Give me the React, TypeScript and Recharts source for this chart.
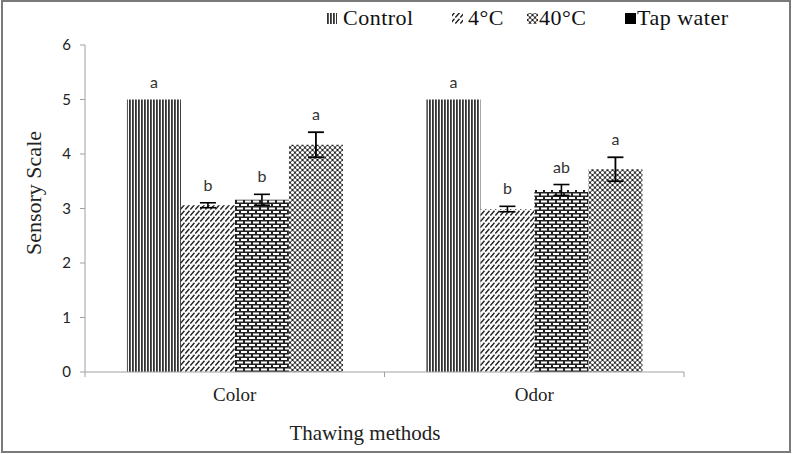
import React from "react";
import { BarChart, Bar, XAxis, YAxis, ErrorBar, LabelList } from "recharts";

const categories = ["Color", "Odor"];
const control = [5, 5];
const cold4 = [3.06, 2.99];
const warm40 = [3.16, 3.34];
const tapWater = [4.17, 3.72];
const err4 = [0.045, 0.05];
const err40 = [0.1, 0.1];
const errTap = [0.23, 0.22];
const letterControl = ["a", "a"];
const letter4 = ["b", "b"];
const letter40 = ["b", "ab"];
const letterTap = ["a", "a"];
const yTicks = [0, 1, 2, 3, 4, 5, 6];

const data = categories.map((name, i) => ({
  name,
  control: control[i],
  c4: cold4[i],
  c40: warm40[i],
  tap: tapWater[i],
  e4: err4[i],
  e40: err40[i],
  eTap: errTap[i],
  lControl: letterControl[i],
  l4: letter4[i],
  l40: letter40[i],
  lTap: letterTap[i],
}));

const SERIF = "'Liberation Serif', 'Times New Roman', serif";
const SANS = "Lato, 'Open Sans', sans-serif";

// letters sit above the error bar top
const letterRenderer = (values: number[], errs: number[]) => (props: any) => {
  const vb = props.viewBox || {};
  const x = props.x ?? vb.x;
  const y = props.y ?? vb.y;
  const w = props.width ?? vb.width;
  const h = props.height ?? vb.height;
  const idx = props.index ?? 0;
  const v = values[idx];
  const e = errs[idx] || 0;
  const pxPerUnit = v ? Math.abs(h) / v : 0;
  const top = y - e * pxPerUnit;
  return (
    <text x={x + w / 2} y={top - 12} textAnchor="middle" fontFamily={SANS} fontSize={16} fill="#333">
      {props.value}
    </text>
  );
};

const CategoryTick = (props: any) => {
  const { x, y, payload, index } = props;
  const half = payload?.offset || 150;
  return (
    <g>
      <line x1={x - half} x2={x - half} y1={y} y2={y + 5} stroke="#a0a0a0" />
      {index === categories.length - 1 && (
        <line x1={x + half} x2={x + half} y1={y} y2={y + 5} stroke="#a0a0a0" />
      )}
      <text x={x} y={y + 29} textAnchor="middle" fontFamily={SERIF} fontSize={19} fill="#222">
        {payload.value}
      </text>
    </g>
  );
};

const Patterns = ({ prefix }: { prefix: string }) => (
  <defs>
    <pattern id={`${prefix}-vert`} patternUnits="userSpaceOnUse" width={3} height={10}>
      <rect x={0} y={0} width={3} height={10} fill="#fff" />
      <rect x={0} y={0} width={1.8} height={10} fill="#333" />
    </pattern>
    <pattern id={`${prefix}-diag`} patternUnits="userSpaceOnUse" width={5} height={6}>
      <rect x={0} y={0} width={5} height={6} fill="#fff" />
      <path d="M0.3,5.5 L4.5,0.8" stroke="#222" strokeWidth={1.5} />
    </pattern>
    <pattern id={`${prefix}-brick`} patternUnits="userSpaceOnUse" width={8} height={7}>
      <rect x={0} y={0} width={8} height={7} fill="#222" />
      <rect x={1} y={1} width={6} height={2} fill="#fff" />
      <rect x={-3} y={4.5} width={6} height={2} fill="#fff" />
      <rect x={5} y={4.5} width={6} height={2} fill="#fff" />
    </pattern>
    <pattern id={`${prefix}-lattice`} patternUnits="userSpaceOnUse" width={5} height={5}>
      <rect x={0} y={0} width={5} height={5} fill="#222" />
      <circle cx={0} cy={0} r={1.55} fill="#fff" />
      <circle cx={5} cy={0} r={1.55} fill="#fff" />
      <circle cx={0} cy={5} r={1.55} fill="#fff" />
      <circle cx={5} cy={5} r={1.55} fill="#fff" />
      <circle cx={2.5} cy={2.5} r={1.55} fill="#fff" />
    </pattern>
  </defs>
);

const legendItems = [
  { label: "Control", fill: "lg-vert", iconX: 326, textX: 343 },
  { label: "4°C", fill: "lg-diag", iconX: 452, textX: 468 },
  { label: "40°C", fill: "lg-lattice", iconX: 527, textX: 539 },
  { label: "Tap water", fill: "#000", iconX: 625, textX: 637 },
];

export default function App() {
  return (
    <div style={{ position: "absolute", left: 0, top: 0, width: 793, height: 454, background: "#fff" }}>
      <div
        style={{
          position: "absolute",
          left: 1,
          top: 0,
          width: 790,
          height: 453,
          border: "2px solid #7a7a7a",
          boxSizing: "border-box",
          pointerEvents: "none",
          zIndex: 2,
        }}
      />
      <BarChart
        width={793}
        height={454}
        data={data}
        margin={{ top: 45, right: 109, bottom: 42, left: 40 }}
        barCategoryGap="14%"
        barGap={0}
      >
        <Patterns prefix="p" />
        <XAxis
          dataKey="name"
          height={40}
          stroke="#a0a0a0"
          tickLine={false}
          tickSize={0}
          tickMargin={0}
          tick={<CategoryTick />}
          interval={0}
        />
        <YAxis
          width={45}
          domain={[0, 6]}
          ticks={yTicks}
          stroke="#a0a0a0"
          tickSize={5}
          tickMargin={9}
          tick={{ fontFamily: SANS, fontSize: 15, fill: "#222" }}
          interval={0}
        />
        <Bar dataKey="control" fill="url(#p-vert)" isAnimationActive={false}>
          <LabelList dataKey="lControl" content={letterRenderer(control, [0, 0])} />
        </Bar>
        <Bar dataKey="c4" fill="url(#p-diag)" isAnimationActive={false}>
          <ErrorBar dataKey="e4" width={8} stroke="#000" strokeWidth={1.6} direction="y" />
          <LabelList dataKey="l4" content={letterRenderer(cold4, err4)} />
        </Bar>
        <Bar dataKey="c40" fill="url(#p-brick)" isAnimationActive={false}>
          <ErrorBar dataKey="e40" width={8} stroke="#000" strokeWidth={1.6} direction="y" />
          <LabelList dataKey="l40" content={letterRenderer(warm40, err40)} />
        </Bar>
        <Bar dataKey="tap" fill="url(#p-lattice)" isAnimationActive={false}>
          <ErrorBar dataKey="eTap" width={8} stroke="#000" strokeWidth={1.8} direction="y" />
          <LabelList dataKey="lTap" content={letterRenderer(tapWater, errTap)} />
        </Bar>
        <text
          x={33}
          y={193}
          transform="rotate(-90 33 193)"
          textAnchor="middle"
          dominantBaseline="central"
          fontFamily={SERIF}
          fontSize={22}
          fill="#222"
        >
          Sensory Scale
        </text>
        <text x={365} y={440} textAnchor="middle" fontFamily={SERIF} fontSize={21} fill="#222">
          Thawing methods
        </text>
      </BarChart>
      <svg width={793} height={40} style={{ position: "absolute", left: 0, top: 0 }}>
        <Patterns prefix="lg" />
        {legendItems.map((it) => (
          <g key={it.label}>
            <rect
              x={it.iconX}
              y={13}
              width={11}
              height={11}
              fill={it.fill.startsWith("#") ? it.fill : `url(#${it.fill})`}
            />
            <text x={it.textX} y={25} fontFamily={SERIF} fontSize={22} letterSpacing={0.5} fill="#111">
              {it.label}
            </text>
          </g>
        ))}
      </svg>
    </div>
  );
}
